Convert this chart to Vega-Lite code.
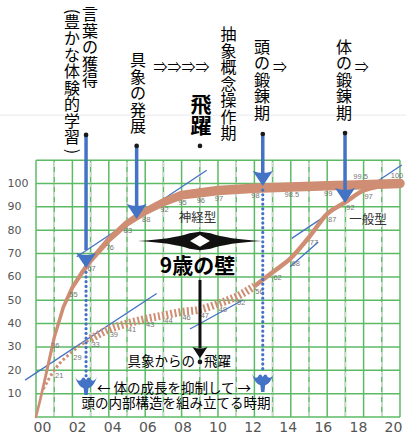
{
 "$schema": "https://vega.github.io/schema/vega-lite/v6.json",
 "width": 370,
 "height": 417,
 "autosize": {"type": "none"},
 "padding": {"left": 36, "top": 0, "right": 0, "bottom": 23},
 "background": "white",
 "config": {"view": {"stroke": null}},
 "datasets": {
  "gridX": [{"age":0,"lo":0,"hi":110},{"age":1,"lo":0,"hi":110},{"age":2,"lo":0,"hi":110},{"age":3,"lo":0,"hi":110},{"age":4,"lo":0,"hi":110},{"age":5,"lo":0,"hi":110},{"age":6,"lo":0,"hi":110},{"age":7,"lo":0,"hi":110},{"age":8,"lo":0,"hi":110},{"age":9,"lo":0,"hi":110},{"age":10,"lo":0,"hi":110},{"age":11,"lo":0,"hi":110},{"age":12,"lo":0,"hi":110},{"age":13,"lo":0,"hi":110},{"age":14,"lo":0,"hi":110},{"age":15,"lo":0,"hi":110},{"age":16,"lo":0,"hi":110},{"age":17,"lo":0,"hi":110},{"age":18,"lo":0,"hi":110},{"age":19,"lo":0,"hi":110},{"age":20,"lo":0,"hi":110}],
  "gridY": [{"pct":0,"from":0,"to":20},{"pct":10,"from":0,"to":20},{"pct":20,"from":0,"to":20},{"pct":30,"from":0,"to":20},{"pct":40,"from":0,"to":20},{"pct":50,"from":0,"to":20},{"pct":60,"from":0,"to":20},{"pct":70,"from":0,"to":20},{"pct":80,"from":0,"to":20},{"pct":90,"from":0,"to":20},{"pct":100,"from":0,"to":20},{"pct":110,"from":0,"to":20}],
  "faint": [{"pct":129.3,"from":-1.98,"to":20.33}],
  "neural": [
   {"age":0,"pct":0},{"age":0.25,"pct":8},{"age":0.5,"pct":16.5},{"age":1,"pct":34,"label":"36"},{"age":1.5,"pct":47},{"age":2,"pct":55.5,"label":"55"},{"age":2.5,"pct":61.5},{"age":3,"pct":67,"label":"67"},{"age":4,"pct":76,"label":"76"},{"age":5,"pct":83,"label":"83"},{"age":6,"pct":88,"label":"88"},{"age":7,"pct":92,"label":"92"},{"age":8,"pct":95,"label":"95"},{"age":9,"pct":96,"label":"96"},{"age":10,"pct":97,"label":"97"},{"age":12,"pct":98,"label":"98"},{"age":14,"pct":98.5,"label":"98.5"},{"age":16,"pct":99,"label":"99"},{"age":18,"pct":99.5,"label":"99.5"},{"age":20,"pct":100,"label":"100"}
  ],
  "general": [
   {"age":0.4,"pct":12},{"age":1,"pct":20,"label":"21"},{"age":2,"pct":28,"label":"29"},{"age":3,"pct":33.5,"label":"33"},{"age":4,"pct":37.5,"label":"39"},{"age":5,"pct":40,"label":"41"},{"age":6,"pct":42,"label":"43"},{"age":7,"pct":43.5,"label":"44"},{"age":8,"pct":45,"label":"46"},{"age":9,"pct":46,"label":"47"},{"age":10,"pct":48.5,"label":"49"},{"age":11,"pct":51.5,"label":"52"},{"age":12,"pct":56,"label":"56"},{"age":13,"pct":62,"label":"62"},{"age":14,"pct":68,"label":"68"},{"age":15,"pct":77,"label":"77"},{"age":16,"pct":87,"label":"87"},{"age":17,"pct":92,"label":"92"},{"age":18,"pct":97,"label":"97"},{"age":20,"pct":100}
  ],
  "tangents": [
   {"seg":"a","age":2.24,"pct":68.6},{"seg":"a","age":9.38,"pct":105.7},
   {"seg":"b","age":-0.6,"pct":15.8},{"seg":"b","age":6.63,"pct":52.9},
   {"seg":"c","age":8.46,"pct":37.7},{"seg":"c","age":11.37,"pct":50.1},
   {"seg":"d","age":13.96,"pct":64.4},{"seg":"d","age":15.51,"pct":75.0},
   {"seg":"e","age":14.05,"pct":76.5},{"seg":"e","age":20.1,"pct":107.9}
  ],
  "blueSolid": [
   {"age":2.75,"top":120.8,"bottom":71.5},
   {"age":5.53,"top":116.1,"bottom":90.0},
   {"age":12.46,"top":121.2,"bottom":102.4},
   {"age":16.98,"top":121.6,"bottom":97.2}
  ],
  "blueDotted": [
   {"age":2.75,"top":62,"bottom":16.5},
   {"age":12.46,"top":97.2,"bottom":18.8}
  ],
  "blueHeads": [
   {"age":2.75,"pct":67.7},{"age":5.53,"pct":88.7},{"age":12.46,"pct":102.8},{"age":16.98,"pct":95.5}
  ],
  "blueTulips": [
   {"age":2.75,"pct":13.7},{"age":12.46,"pct":15.0}
  ],
  "dots": [
   {"age":2.75,"pct":120.8},{"age":5.53,"pct":116.1},{"age":9.01,"pct":116.1},{"age":12.46,"pct":121.2},{"age":16.98,"pct":121.6},{"age":9.01,"pct":23.6}
  ],
  "blackArrow": [{"age":9.01,"top":58.7,"bottom":29.5}],
  "blackHead": [{"age":9.01,"pct":28.0}],
  "wall": [{"age":9.01,"pct":75.4}],
  "vtext": [
   {"age":2.97,"pct":175.6,"text":"言\n葉\nの\n獲\n得"},
   {"age":1.98,"pct":172.2,"text":"豊\nか\nな\n体\n験\n的\n学\n習"},
   {"age":5.6,"pct":155.9,"text":"具\n象\nの\n発\n展"},
   {"age":10.58,"pct":167.0,"text":"抽\n象\n概\n念\n操\n作\n期"},
   {"age":12.42,"pct":161.5,"text":"頭\nの\n鍛\n錬\n期"},
   {"age":16.92,"pct":161.5,"text":"体\nの\n鍛\n錬\n期"}
  ],
  "vtextBold": [{"age":9.07,"pct":137.9,"text":"飛\n躍"}],
  "parens": [{"age":1.98,"pct":173.7,"text":"("},{"age":1.98,"pct":113.7,"text":")"}],
  "arrowsText": [{"age":8.0,"pct":149.5,"text":"⇒⇒⇒⇒"},{"age":13.4,"pct":149.5,"text":"⇒"},{"age":17.9,"pct":149.5,"text":"⇒"}],
  "wallText": [{"age":8.87,"pct":64.2,"text":"9歳の壁"}],
  "typeText": [{"age":8.87,"pct":85.4,"text":"神経型"},{"age":18.24,"pct":84.4,"text":"一般型"}],
  "noteLeft": [{"age":8.74,"pct":23.55,"text":"具象からの"}],
  "noteRight": [{"age":9.23,"pct":23.55,"text":"飛躍"}],
  "noteCenter": [{"age":7.58,"pct":12.0,"text":"← 体の成長を抑制して →"},{"age":7.69,"pct":5.57,"text":"頭の内部構造を組み立てる時期"}]
 },
 "encoding": {
  "x": {"field": "age", "type": "quantitative", "scale": {"domain": [0, 20.33], "nice": false, "zero": false},
        "axis": {"values": [0,2,4,6,8,10,12,14,16,18,20], "labelExpr": "datum.value < 10 ? '0' + datum.value : '' + datum.value", "labelOffset": {"expr": "6 - 0.65 * datum.value"}, "domain": false, "ticks": false, "tickSize": 0, "grid": false, "title": null, "labelFontSize": 14, "labelColor": "#555", "labelFont": "DejaVu Sans", "labelPadding": 3, "labelFlush": false}},
  "y": {"field": "pct", "type": "quantitative", "scale": {"domain": [0, 178.6], "nice": false, "zero": false},
        "axis": {"values": [10,20,30,40,50,60,70,80,90,100], "domain": false, "ticks": false, "tickSize": 0, "grid": false, "title": null, "labelAlign": "left", "labelPadding": 29, "labelFontSize": 11, "labelColor": "#555", "labelFont": "DejaVu Sans"}}
 },
 "layer": [
  {"data": {"name": "faint"}, "mark": {"type": "rule", "color": "#e8e8e8", "strokeWidth": 1},
   "encoding": {"x": {"field": "from", "type": "quantitative"}, "x2": {"field": "to"}}},
  {"data": {"name": "gridX"}, "mark": {"type": "rule", "color": "#5cba64", "strokeWidth": 1.5},
   "encoding": {"y": {"field": "lo", "type": "quantitative"}, "y2": {"field": "hi"}}},
  {"data": {"name": "gridX"}, "transform": [{"filter": "datum.age % 2 == 1"}], "mark": {"type": "rule", "color": "#d4d8d4", "strokeWidth": 1.6, "strokeDash": [5, 5]},
   "encoding": {"y": {"field": "lo", "type": "quantitative"}, "y2": {"field": "hi"}}},
  {"data": {"name": "gridY"}, "mark": {"type": "rule", "color": "#5cba64", "strokeWidth": 1.5},
   "encoding": {"x": {"field": "from", "type": "quantitative"}, "x2": {"field": "to"}}},
  {"data": {"name": "tangents"}, "mark": {"type": "line", "color": "#4472c4", "strokeWidth": 1.3},
   "encoding": {"detail": {"field": "seg", "type": "nominal"}}},
  {"data": {"name": "neural"}, "mark": {"type": "trail", "color": "#cf8e74"},
   "encoding": {"size": {"field": "age", "type": "quantitative", "scale": {"domain": [0, 9], "range": [2.5, 9.5], "clamp": true}, "legend": null}}},
  {"data": {"name": "general"}, "transform": [{"filter": "datum.age <= 3"}],
   "mark": {"type": "line", "interpolate": "monotone", "color": "#cf8e74", "strokeWidth": 3, "strokeDash": [2.5, 2.5]}, "encoding": {}},
  {"data": {"name": "general"}, "transform": [{"filter": "datum.age >= 3 && datum.age <= 12"}],
   "mark": {"type": "line", "interpolate": "monotone", "color": "#cf8e74", "strokeWidth": 8, "strokeDash": [2, 2.2]}, "encoding": {}},
  {"data": {"name": "general"}, "transform": [{"filter": "datum.age >= 12"}],
   "mark": {"type": "line", "interpolate": "monotone", "color": "#cf8e74", "strokeWidth": 4.5}, "encoding": {}},
  {"data": {"name": "neural"}, "transform": [{"filter": "isValid(datum.label) && datum.age < 18"}],
   "mark": {"type": "text", "font": "Liberation Sans", "fontSize": 7.5, "fill": "#777", "dx": 1, "dy": 8},
   "encoding": {"text": {"field": "label", "type": "nominal"}}},
  {"data": {"name": "neural"}, "transform": [{"filter": "isValid(datum.label) && datum.age >= 18"}],
   "mark": {"type": "text", "font": "Liberation Sans", "fontSize": 7.5, "fill": "#777", "dx": -3, "dy": -8},
   "encoding": {"text": {"field": "label", "type": "nominal"}}},
  {"data": {"name": "general"}, "transform": [{"filter": "isValid(datum.label)"}],
   "mark": {"type": "text", "font": "Liberation Sans", "fontSize": 7.5, "fill": "#777", "dx": 5, "dy": 6},
   "encoding": {"text": {"field": "label", "type": "nominal"}}},
  {"data": {"name": "blueSolid"}, "mark": {"type": "rule", "color": "#4472c4", "strokeWidth": 3.5},
   "encoding": {"y": {"field": "top", "type": "quantitative"}, "y2": {"field": "bottom"}}},
  {"data": {"name": "blueDotted"}, "mark": {"type": "rule", "color": "#4472c4", "strokeWidth": 3.2, "strokeDash": [0.1, 4.6], "strokeCap": "round"},
   "encoding": {"y": {"field": "top", "type": "quantitative"}, "y2": {"field": "bottom"}}},
  {"data": {"name": "blueHeads"}, "mark": {"type": "point", "filled": true, "opacity": 1, "color": "#4472c4", "size": 400, "shape": "M-1,-0.6Q0,-0.2,1,-0.6L0,0.9Z"}, "encoding": {}},
  {"data": {"name": "blueTulips"}, "mark": {"type": "point", "filled": true, "opacity": 1, "color": "#4472c4", "size": 484, "shape": "M-1,-0.75Q-0.75,-0.25,-0.45,-0.45Q-0.25,-0.9,0,-0.45Q0.25,-0.9,0.45,-0.45Q0.75,-0.25,1,-0.75Q0.7,0.15,0.22,0.3L0.15,0.9L-0.15,0.9L-0.22,0.3Q-0.7,0.15,-1,-0.75Z"}, "encoding": {}},
  {"data": {"name": "blackArrow"}, "mark": {"type": "rule", "color": "#111", "strokeWidth": 3},
   "encoding": {"y": {"field": "top", "type": "quantitative"}, "y2": {"field": "bottom"}}},
  {"data": {"name": "blackHead"}, "mark": {"type": "point", "filled": true, "opacity": 1, "color": "#111", "size": 225, "shape": "M-1,-0.6Q0,-0.2,1,-0.6L0,0.9Z"}, "encoding": {}},
  {"data": {"name": "dots"}, "mark": {"type": "point", "filled": true, "opacity": 1, "color": "#1a1a1a", "size": 22, "shape": "circle"}, "encoding": {}},
  {"data": {"name": "wall"}, "mark": {"type": "point", "filled": true, "opacity": 1, "color": "#111", "size": 15376, "shape": "M-1,0Q-0.45,-0.03,-0.17,-0.125L0,-0.15L0.17,-0.125Q0.45,-0.03,1,0Q0.45,0.03,0.17,0.125L0,0.15L-0.17,0.125Q-0.45,0.03,-1,0Z"}, "encoding": {}},
  {"data": {"name": "wall"}, "mark": {"type": "point", "filled": true, "opacity": 1, "color": "#ffffff", "size": 15376, "shape": "M-0.16,0L0,-0.095L0.16,0L0,0.095Z"}, "encoding": {}},
  {"data": {"name": "vtext"}, "mark": {"type": "text", "font": "Noto Sans CJK JP", "fontSize": 16, "lineHeight": 16.5, "lineBreak": "\n", "baseline": "top", "align": "center", "fill": "#000"},
   "encoding": {"text": {"field": "text", "type": "nominal"}}},
  {"data": {"name": "vtextBold"}, "mark": {"type": "text", "font": "Noto Sans CJK JP", "fontSize": 21, "fontWeight": "bold", "lineHeight": 21, "lineBreak": "\n", "baseline": "top", "align": "center", "fill": "#000"},
   "encoding": {"text": {"field": "text", "type": "nominal"}}},
  {"data": {"name": "parens"}, "mark": {"type": "text", "font": "Noto Sans CJK JP", "fontSize": 16, "angle": 90, "baseline": "middle", "align": "center", "fill": "#000"},
   "encoding": {"text": {"field": "text", "type": "nominal"}}},
  {"data": {"name": "arrowsText"}, "mark": {"type": "text", "font": "Noto Sans CJK JP", "fontSize": 14, "baseline": "middle", "align": "center", "fill": "#000"},
   "encoding": {"text": {"field": "text", "type": "nominal"}}},
  {"data": {"name": "wallText"}, "mark": {"type": "text", "font": "Noto Sans CJK JP", "fontSize": 21, "fontWeight": "bold", "baseline": "middle", "align": "center", "fill": "#000"},
   "encoding": {"text": {"field": "text", "type": "nominal"}}},
  {"data": {"name": "typeText"}, "mark": {"type": "text", "font": "Noto Sans CJK JP", "fontSize": 12.5, "baseline": "middle", "align": "center", "fill": "#333"},
   "encoding": {"text": {"field": "text", "type": "nominal"}}},
  {"data": {"name": "noteLeft"}, "mark": {"type": "text", "font": "Noto Sans CJK JP", "fontSize": 13.5, "baseline": "middle", "align": "right", "fill": "#000"},
   "encoding": {"text": {"field": "text", "type": "nominal"}}},
  {"data": {"name": "noteRight"}, "mark": {"type": "text", "font": "Noto Sans CJK JP", "fontSize": 13.5, "baseline": "middle", "align": "left", "fill": "#000"},
   "encoding": {"text": {"field": "text", "type": "nominal"}}},
  {"data": {"name": "noteCenter"}, "mark": {"type": "text", "font": "Noto Sans CJK JP", "fontSize": 13.5, "baseline": "middle", "align": "center", "fill": "#000"},
   "encoding": {"text": {"field": "text", "type": "nominal"}}}
 ]
}
